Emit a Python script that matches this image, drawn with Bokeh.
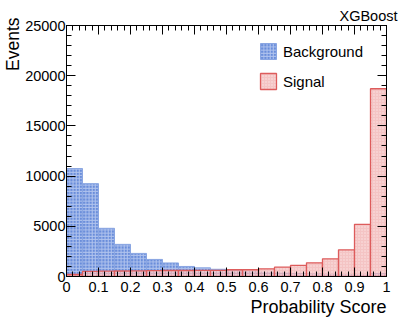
import numpy as np
from bokeh.plotting import figure
from bokeh.models import (ColumnDataSource, LinearAxis, Range1d, FixedTicker,
                          Legend, LegendItem, CustomLabelingPolicy, Title)
from bokeh.embed import file_html
from bokeh.resources import INLINE

# ---- data ----
bin_edges = [round(0.05 * i, 2) for i in range(21)]
background = [10750, 9250, 4800, 3200, 2300, 1700, 1350, 1000, 860, 720,
              600, 500, 420, 350, 300, 260, 220, 180, 150, 300]
signal = [200, 520, 540, 550, 560, 580, 600, 600, 610, 620,
          670, 670, 760, 930, 1100, 1360, 1760, 2660, 5200, 18700]
x_ticks = [0, 0.1, 0.2, 0.3, 0.4, 0.5, 0.6, 0.7, 0.8, 0.9, 1]
x_minor = [round(0.02 * i, 2) for i in range(51)]
y_ticks = [0, 5000, 10000, 15000, 20000, 25000]
y_minor = list(range(0, 25001, 1000))

FONT = "Liberation Sans"

p = figure(width=405, height=320, output_backend="svg", toolbar_location=None,
           x_range=Range1d(0, 1), y_range=Range1d(0, 25000),
           min_border_left=64, min_border_right=19, min_border_top=25,
           min_border_bottom=44, x_axis_type=None, y_axis_type=None)
p.grid.visible = False
p.outline_line_color = "black"
p.outline_line_width = 1
p.background_fill_color = "white"
p.border_fill_color = "white"

src_b = ColumnDataSource(dict(left=bin_edges[:-1], right=bin_edges[1:],
                              top=background, bottom=[0] * len(background)))
src_s = ColumnDataSource(dict(left=bin_edges[:-1], right=bin_edges[1:],
                              top=signal, bottom=[0] * len(signal)))

rb = p.quad(left="left", right="right", top="top", bottom="bottom", source=src_b,
            fill_color="#6187d8", fill_alpha=0.95, line_color="#8aa6e2", line_width=1,
            hatch_pattern="+", hatch_color="#c8d6f4", hatch_alpha=0.75,
            hatch_scale=3.2, hatch_weight=1)
rs = p.quad(left="left", right="right", top="top", bottom="bottom", source=src_s,
            fill_color="#f0b0b0", fill_alpha=0.75, line_color="#dd5c5c", line_width=1.3,
            hatch_pattern="dot", hatch_color="#fde8e8", hatch_alpha=0.9,
            hatch_scale=3, hatch_weight=1)

hide_labels = CustomLabelingPolicy(code="""
const ids = [...indices]
for (const i of ids) { indices.unset(i) }
return indices
""")

def style_axis(ax, show_labels, standoff=3):
    ax.axis_line_color = "black"
    ax.major_tick_in = 9
    ax.major_tick_out = 0
    ax.minor_tick_in = 5
    ax.minor_tick_out = 0
    ax.major_tick_line_color = "black"
    ax.minor_tick_line_color = "black"
    ax.major_label_text_font = FONT
    ax.major_label_text_font_size = "14.5px"
    ax.major_label_text_color = "black"
    ax.major_label_standoff = standoff
    if not show_labels:
        ax.major_label_policy = hide_labels
        ax.major_label_text_font_size = "0px"
        ax.major_label_standoff = 0

xb = LinearAxis(ticker=FixedTicker(ticks=x_ticks, minor_ticks=x_minor))
style_axis(xb, True, standoff=5)
xb.major_label_overrides = {0: "0", 1: "1"}
p.add_layout(xb, "below")

xt = LinearAxis(ticker=FixedTicker(ticks=x_ticks, minor_ticks=x_minor))
style_axis(xt, False)
p.add_layout(xt, "above")

yl = LinearAxis(ticker=FixedTicker(ticks=y_ticks, minor_ticks=y_minor))
style_axis(yl, True, standoff=1)
p.add_layout(yl, "left")

yr = LinearAxis(ticker=FixedTicker(ticks=y_ticks, minor_ticks=y_minor))
style_axis(yr, False)
p.add_layout(yr, "right")

p.add_layout(Title(text="XGBoost", align="right", text_font=FONT,
                   text_font_size="14.5px", text_font_style="normal",
                   text_color="black", text_line_height=0.9,
                   offset=-11, standoff=4), "above")
p.add_layout(Title(text="Probability Score", align="right", text_font=FONT,
                   text_font_size="18px", text_font_style="normal",
                   text_color="black", offset=0, standoff=0), "below")
p.add_layout(Title(text="Events", align="right", text_font=FONT,
                   text_font_size="17.5px", text_font_style="normal",
                   text_color="black", offset=-8, standoff=0), "left")

legend = Legend(items=[LegendItem(label="Background", renderers=[rb]),
                       LegendItem(label="Signal", renderers=[rs])],
                location=(192, 185), padding=0, margin=0, spacing=10,
                glyph_width=20, glyph_height=20, label_standoff=5,
                label_text_font=FONT, label_text_font_size="15px",
                label_text_color="black",
                border_line_alpha=0, background_fill_alpha=0)
p.add_layout(legend, "center")

open("out.html", "w").write(file_html(p, INLINE))
